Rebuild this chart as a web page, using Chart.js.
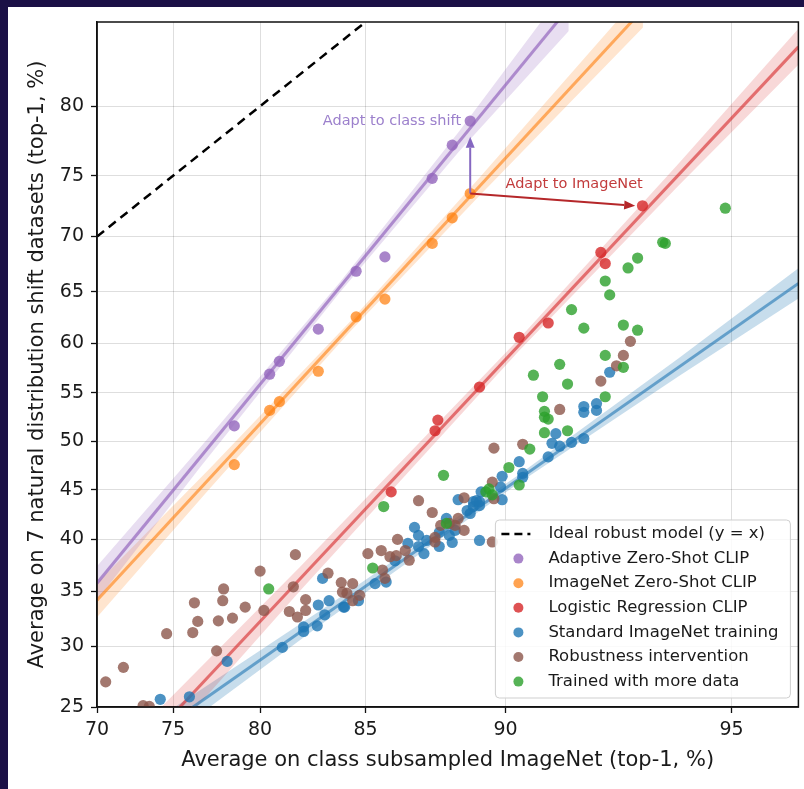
<!DOCTYPE html>
<html>
<head>
<meta charset="utf-8">
<script src="https://cdn.jsdelivr.net/npm/chart.js@4.4.1/dist/chart.umd.min.js"></script>
<style>
  html, body { margin: 0; padding: 0; background: #fff; }
  canvas { display: block; }
</style>
</head>
<body>
<canvas id="chart" width="804" height="789"></canvas>
<script>
// Axis ticks and limits
const xTicks = [70, 75, 80, 85, 90, 95];
const yTicks = [25, 30, 35, 40, 45, 50, 55, 60, 65, 70, 75, 80];
const xRange = [70, 95.95];
const yRange = [25, 85];

// Models: [avg on class subsampled ImageNet, avg on 7 natural distribution shift datasets]
const adaptiveClip = [[78.6, 51.6], [80.5, 56.9], [81.0, 58.2], [82.9, 61.4], [84.6, 66.9], [85.8, 68.2], [87.6, 74.8], [88.3, 77.3], [88.9, 79.0]];
const zeroShotClip = [[78.6, 47.6], [80.5, 53.2], [81.0, 54.1], [82.9, 57.2], [84.6, 62.6], [85.8, 64.3], [87.6, 69.4], [88.3, 71.6], [88.9, 73.6]];
const logRegClip = [[86.05, 44.8], [87.7, 51.1], [87.8, 52.2], [89.2, 55.6], [90.4, 60.6], [91.2, 62.0], [92.5, 68.6], [92.6, 67.6], [93.4, 72.6]];
const standardTraining = [
  [92.1, 53.6], [92.1, 53.0], [92.4, 53.9], [92.4, 53.2], [91.4, 50.8], [91.3, 49.8], [91.5, 49.5], [91.8, 49.9],
  [92.1, 50.3], [91.2, 48.4], [90.4, 47.9], [89.9, 46.4], [90.5, 46.7], [90.5, 46.3], [89.85, 45.3], [89.9, 44.0],
  [89.2, 43.8], [92.7, 57.1], [87.1, 40.4], [87.3, 38.6], [87.1, 39.3], [87.85, 39.3], [88.2, 40.4], [88.1, 42.1],
  [88.9, 42.6], [89.0, 43.3], [89.2, 43.4], [88.8, 42.9], [89.0, 43.8], [89.2, 39.9], [85.4, 35.7], [85.85, 35.85],
  [84.1, 33.5], [84.7, 34.1], [87.4, 39.9], [86.7, 39.6], [86.95, 41.2], [88.4, 40.9], [86.2, 37.9], [88.5, 44.0],
  [89.25, 44.8], [89.1, 43.9], [87.85, 40.7], [88.3, 39.7],
  [78.2, 28.7], [74.2, 25.6], [76.0, 25.8], [81.15, 29.9], [83.1, 36.2], [82.9, 33.7], [83.4, 34.1], [83.2, 32.8],
  [82.2, 31.7], [82.2, 31.3], [82.85, 31.8], [84.05, 33.5]
];
const robustness = [
  [70.6, 27.0], [71.8, 28.2], [73.1, 25.1], [73.5, 25.05], [74.6, 31.1], [76.2, 31.2], [76.5, 32.2], [76.3, 33.9],
  [77.6, 29.6], [77.7, 32.25], [77.95, 34.1], [78.0, 35.2], [78.5, 32.5], [79.2, 33.5], [80.0, 36.9], [80.2, 33.2],
  [81.8, 38.5], [81.7, 35.4], [81.5, 33.1], [81.9, 32.6], [82.3, 34.2], [82.3, 33.2], [83.35, 36.7], [83.95, 35.8],
  [84.0, 34.9], [84.2, 34.8], [84.45, 35.7], [84.75, 34.6], [84.45, 34.1], [85.1, 38.6], [85.65, 38.9], [86.3, 40.0],
  [86.6, 38.9], [86.75, 37.95], [86.0, 38.3], [86.25, 38.4], [85.7, 37.0], [85.8, 36.2], [87.1, 43.9], [87.6, 42.7],
  [88.7, 44.2], [89.6, 45.8], [89.6, 39.75], [87.7, 39.75], [87.7, 40.2], [88.2, 41.6], [88.4, 41.4], [88.7, 40.9],
  [88.5, 42.1], [87.9, 41.4], [89.65, 49.3], [90.5, 49.7], [89.65, 44.1], [91.5, 53.3], [92.5, 56.2], [92.85, 57.75],
  [93.0, 58.8], [93.15, 60.2]
];
const moreData = [
  [94.9, 72.4], [93.8, 69.5], [93.85, 69.4], [93.3, 68.1], [93.1, 67.2], [92.6, 66.0], [92.7, 64.7], [91.8, 63.3],
  [92.1, 61.5], [93.0, 61.8], [93.3, 61.3], [92.6, 58.8], [91.5, 57.9], [91.7, 55.9], [93.0, 57.6], [91.05, 54.6],
  [92.6, 54.6], [91.1, 53.1], [91.1, 52.5], [91.2, 52.3], [91.1, 50.9], [91.7, 51.1], [90.7, 49.2], [90.1, 47.3],
  [90.4, 45.5], [89.5, 45.1], [89.4, 44.8], [89.6, 44.5], [88.0, 46.5], [85.75, 43.3], [88.1, 41.6], [85.3, 37.2],
  [80.45, 35.2], [90.8, 56.8]
];

// Trend lines (end points) and confidence bands
const idealLine = [[70, 70], [85, 85]];
const adaptiveFit = [[70, 35.74], [91.73, 85.73]];
const adaptiveBandX = [70, 76.63, 83.88, 88.53, 91.73];
const adaptiveBandHi = [37.37, 49.35, 65.87, 78.28, 86.86];
const adaptiveBandLo = [34.14, 47.29, 64.93, 76.84, 84.52];
const zeroShotFit = [[70, 34.14], [93.41, 85.65]];
const zeroShotBandX = [70, 77.22, 84.31, 89.19, 93.41];
const zeroShotBandHi = [35.74, 47.23, 62.08, 74.82, 86.54];
const zeroShotBandLo = [32.58, 45.17, 61.1, 73.39, 84.71];
const logRegFit = [[74.19, 23.39], [95.95, 83.64]];
const logRegBandX = [74.19, 82.01, 90.39, 94.1, 95.95];
const logRegBandHi = [24.9, 37.27, 60.44, 75.94, 84.64];
const logRegBandLo = [21.93, 34.98, 59.24, 74.24, 82.6];
const standardFit = [[75.13, 24.04], [95.95, 65.78]];
const standardBandX = [75.13, 83.42, 90.39, 94.1, 95.95];
const standardBandHi = [25.02, 33.75, 46.55, 58.52, 67.17];
const standardBandLo = [23.07, 32.48, 45.72, 56.7, 64.37];

// Annotations
const classShiftArrow = [[88.9, 73.6], [88.9, 77.9]];
const imageNetArrow = [[88.9, 73.6], [93.25, 72.6]];

const legendLabels = ['Ideal robust model (y = x)', 'Adaptive Zero-Shot CLIP', 'ImageNet Zero-Shot CLIP',
  'Logistic Regression CLIP', 'Standard ImageNet training', 'Robustness intervention', 'Trained with more data'];

const colors = {
  purple: 'rgba(148,103,189,0.8)',
  orange: 'rgba(255,127,14,0.72)',
  red: 'rgba(214,39,40,0.8)',
  blue: 'rgba(31,119,180,0.8)',
  brown: 'rgba(140,86,75,0.8)',
  green: 'rgba(44,160,44,0.8)'
};
const legendColors = [null, colors.purple, colors.orange, colors.red, colors.blue, colors.brown, colors.green];

// Logit scale (matplotlib-like 'logit' axis, values in %)
const logit = p => Math.log(p / (100 - p));
class LogitScale extends Chart.LinearScale {
  configure() {
    super.configure();
    this._lo = logit(this.min);
    this._hi = logit(this.max);
  }
  getPixelForValue(value) {
    return this.getPixelForDecimal((logit(value) - this._lo) / (this._hi - this._lo));
  }
  getValueForPixel(pixel) {
    const t = this._lo + this.getDecimalForPixel(pixel) * (this._hi - this._lo);
    return 100 / (1 + Math.exp(-t));
  }
}
LogitScale.id = 'logit';
LogitScale.defaults = {};
Chart.register(LogitScale);

Chart.defaults.font.family = '"DejaVu Sans", sans-serif';

const pts = arr => arr.map(([x, y]) => ({ x, y }));
const zip = (xs, ys) => xs.map((x, i) => ({ x, y: ys[i] }));

function scatterSet(data, color, order) {
  return { data: pts(data), backgroundColor: color, borderWidth: 0, pointRadius: 5.6, order, clip: 0 };
}
function fitSet(data, color) {
  return { data: pts(data), showLine: true, borderColor: color, borderWidth: 3, pointRadius: 0, order: 6, clip: 0 };
}
function bandSets(xs, hi, lo, color) {
  return [
    { data: zip(xs, hi), showLine: true, borderWidth: 0, pointRadius: 0, fill: '+1', backgroundColor: color, order: 10, clip: 0 },
    { data: zip(xs, lo), showLine: true, borderWidth: 0, pointRadius: 0, fill: false, order: 10, clip: 0 }
  ];
}

const pageFrame = {
  id: 'pageFrame',
  beforeDraw(chart) {
    const ctx = chart.ctx;
    ctx.save();
    ctx.fillStyle = '#1b1046';
    ctx.fillRect(0, 0, chart.width, chart.height);
    ctx.fillStyle = '#ffffff';
    ctx.fillRect(8, 7, chart.width - 8, chart.height - 7);
    ctx.restore();
  }
};

function arrow(ctx, x1, y1, x2, y2, color) {
  const ang = Math.atan2(y2 - y1, x2 - x1);
  const len = 11, half = 4.5;
  ctx.strokeStyle = color;
  ctx.fillStyle = color;
  ctx.lineWidth = 2;
  ctx.beginPath();
  ctx.moveTo(x1, y1);
  ctx.lineTo(x2 - Math.cos(ang) * len, y2 - Math.sin(ang) * len);
  ctx.stroke();
  ctx.beginPath();
  ctx.moveTo(x2, y2);
  ctx.lineTo(x2 - Math.cos(ang) * len - Math.sin(ang) * half, y2 - Math.sin(ang) * len + Math.cos(ang) * half);
  ctx.lineTo(x2 - Math.cos(ang) * len + Math.sin(ang) * half, y2 - Math.sin(ang) * len - Math.cos(ang) * half);
  ctx.closePath();
  ctx.fill();
}

const annotations = {
  id: 'annotations',
  afterDatasetsDraw(chart) {
    const { ctx, chartArea: a, scales: { x, y } } = chart;
    ctx.save();
    const px = p => [x.getPixelForValue(p[0]), y.getPixelForValue(p[1])];
    let [x1, y1] = px(classShiftArrow[0]);
    let [x2, y2] = px(classShiftArrow[1]);
    arrow(ctx, x1, y1, x2, y2, '#8567c1');
    [x1, y1] = px(imageNetArrow[0]);
    [x2, y2] = px(imageNetArrow[1]);
    arrow(ctx, x1, y1, x2, y2, '#b5272a');

    ctx.font = '14.5px "DejaVu Sans"';
    ctx.textBaseline = 'middle';
    ctx.textAlign = 'right';
    ctx.fillStyle = '#9c80cc';
    ctx.fillText('Adapt to class shift', x.getPixelForValue(88.6), y.getPixelForValue(79.0));
    ctx.textAlign = 'left';
    ctx.fillStyle = '#c23b3c';
    ctx.fillText('Adapt to ImageNet', x.getPixelForValue(90.0), y.getPixelForValue(74.3));

    // axes frame
    ctx.strokeStyle = '#111';
    ctx.lineWidth = 1.5;
    ctx.strokeRect(a.left, a.top, a.right - a.left, a.bottom - a.top);
    ctx.restore();
  }
};

const legendBox = {
  id: 'legendBox',
  afterDraw(chart) {
    const { ctx, chartArea: a } = chart;
    const w = 295, h = 178, r = 4;
    const x0 = a.right - 8 - w, y0 = a.bottom - 9 - h;
    ctx.save();
    ctx.beginPath();
    ctx.moveTo(x0 + r, y0);
    ctx.arcTo(x0 + w, y0, x0 + w, y0 + h, r);
    ctx.arcTo(x0 + w, y0 + h, x0, y0 + h, r);
    ctx.arcTo(x0, y0 + h, x0, y0, r);
    ctx.arcTo(x0, y0, x0 + w, y0, r);
    ctx.closePath();
    ctx.fillStyle = 'rgba(255,255,255,0.85)';
    ctx.fill();
    ctx.strokeStyle = '#cfcfcf';
    ctx.lineWidth = 1;
    ctx.stroke();

    ctx.font = '16.5px "DejaVu Sans"';
    ctx.textBaseline = 'middle';
    ctx.textAlign = 'left';
    legendLabels.forEach((label, i) => {
      const yy = y0 + 14 + i * 24.6;
      if (i === 0) {
        ctx.strokeStyle = '#000';
        ctx.lineWidth = 2.5;
        ctx.setLineDash([8, 5]);
        ctx.beginPath();
        ctx.moveTo(x0 + 6, yy);
        ctx.lineTo(x0 + 35, yy);
        ctx.stroke();
        ctx.setLineDash([]);
      } else {
        ctx.fillStyle = legendColors[i];
        ctx.beginPath();
        ctx.arc(x0 + 23, yy, 5, 0, Math.PI * 2);
        ctx.fill();
      }
      ctx.fillStyle = '#1a1a1a';
      ctx.fillText(label, x0 + 53, yy);
    });
    ctx.restore();
  }
};

const datasets = [
  ...bandSets(adaptiveBandX, adaptiveBandHi, adaptiveBandLo, 'rgba(148,103,189,0.22)'),
  ...bandSets(zeroShotBandX, zeroShotBandHi, zeroShotBandLo, 'rgba(255,127,14,0.2)'),
  ...bandSets(logRegBandX, logRegBandHi, logRegBandLo, 'rgba(214,39,40,0.18)'),
  ...bandSets(standardBandX, standardBandHi, standardBandLo, 'rgba(31,119,180,0.25)'),
  fitSet(adaptiveFit, 'rgba(148,103,189,0.7)'),
  fitSet(zeroShotFit, 'rgba(255,127,14,0.6)'),
  fitSet(logRegFit, 'rgba(214,39,40,0.6)'),
  fitSet(standardFit, 'rgba(31,119,180,0.6)'),
  { data: pts(idealLine), showLine: true, borderColor: '#000', borderWidth: 2.5, borderDash: [9, 6], pointRadius: 0, order: 6, clip: 0 },
  scatterSet(standardTraining, colors.blue, 4),
  scatterSet(robustness, colors.brown, 3),
  scatterSet(moreData, colors.green, 2),
  scatterSet(logRegClip, colors.red, 1),
  scatterSet(zeroShotClip, colors.orange, 1),
  scatterSet(adaptiveClip, colors.purple, 1)
];

const tickFont = { size: 19 };
new Chart(document.getElementById('chart'), {
  type: 'scatter',
  data: { datasets },
  options: {
    responsive: false,
    animation: false,
    events: [],
    layout: { padding: { left: 0, top: 22, right: 4, bottom: 0 } },
    plugins: { legend: { display: false }, tooltip: { enabled: false } },
    scales: {
      x: {
        type: 'logit',
        min: xRange[0],
        max: xRange[1],
        bounds: 'data',
        afterBuildTicks: s => { s.ticks = xTicks.map(v => ({ value: v })); },
        afterFit: s => { s.height = 82; },
        ticks: { font: tickFont, color: '#1a1a1a', padding: 6, autoSkip: false, maxRotation: 0 },
        grid: { color: 'rgba(0,0,0,0.13)', tickColor: '#111', tickLength: 6, tickWidth: 1.3 },
        border: { color: '#111', width: 1.5 },
        title: { display: true, text: 'Average on class subsampled ImageNet (top-1, %)', font: { size: 21 }, color: '#1a1a1a', padding: { bottom: 16 } }
      },
      y: {
        type: 'logit',
        min: yRange[0],
        max: yRange[1],
        bounds: 'data',
        afterBuildTicks: s => { s.ticks = yTicks.map(v => ({ value: v })); },
        afterFit: s => { s.width = 97; },
        ticks: { font: tickFont, color: '#1a1a1a', padding: 7, autoSkip: false },
        grid: { color: 'rgba(0,0,0,0.13)', tickColor: '#111', tickLength: 6, tickWidth: 1.3 },
        border: { color: '#111', width: 1.5 },
        title: { display: true, text: 'Average on 7 natural distribution shift datasets (top-1, %)', font: { size: 21 }, color: '#1a1a1a', padding: { top: 25 } }
      }
    }
  },
  plugins: [pageFrame, annotations, legendBox]
});
</script>
</body>
</html>
